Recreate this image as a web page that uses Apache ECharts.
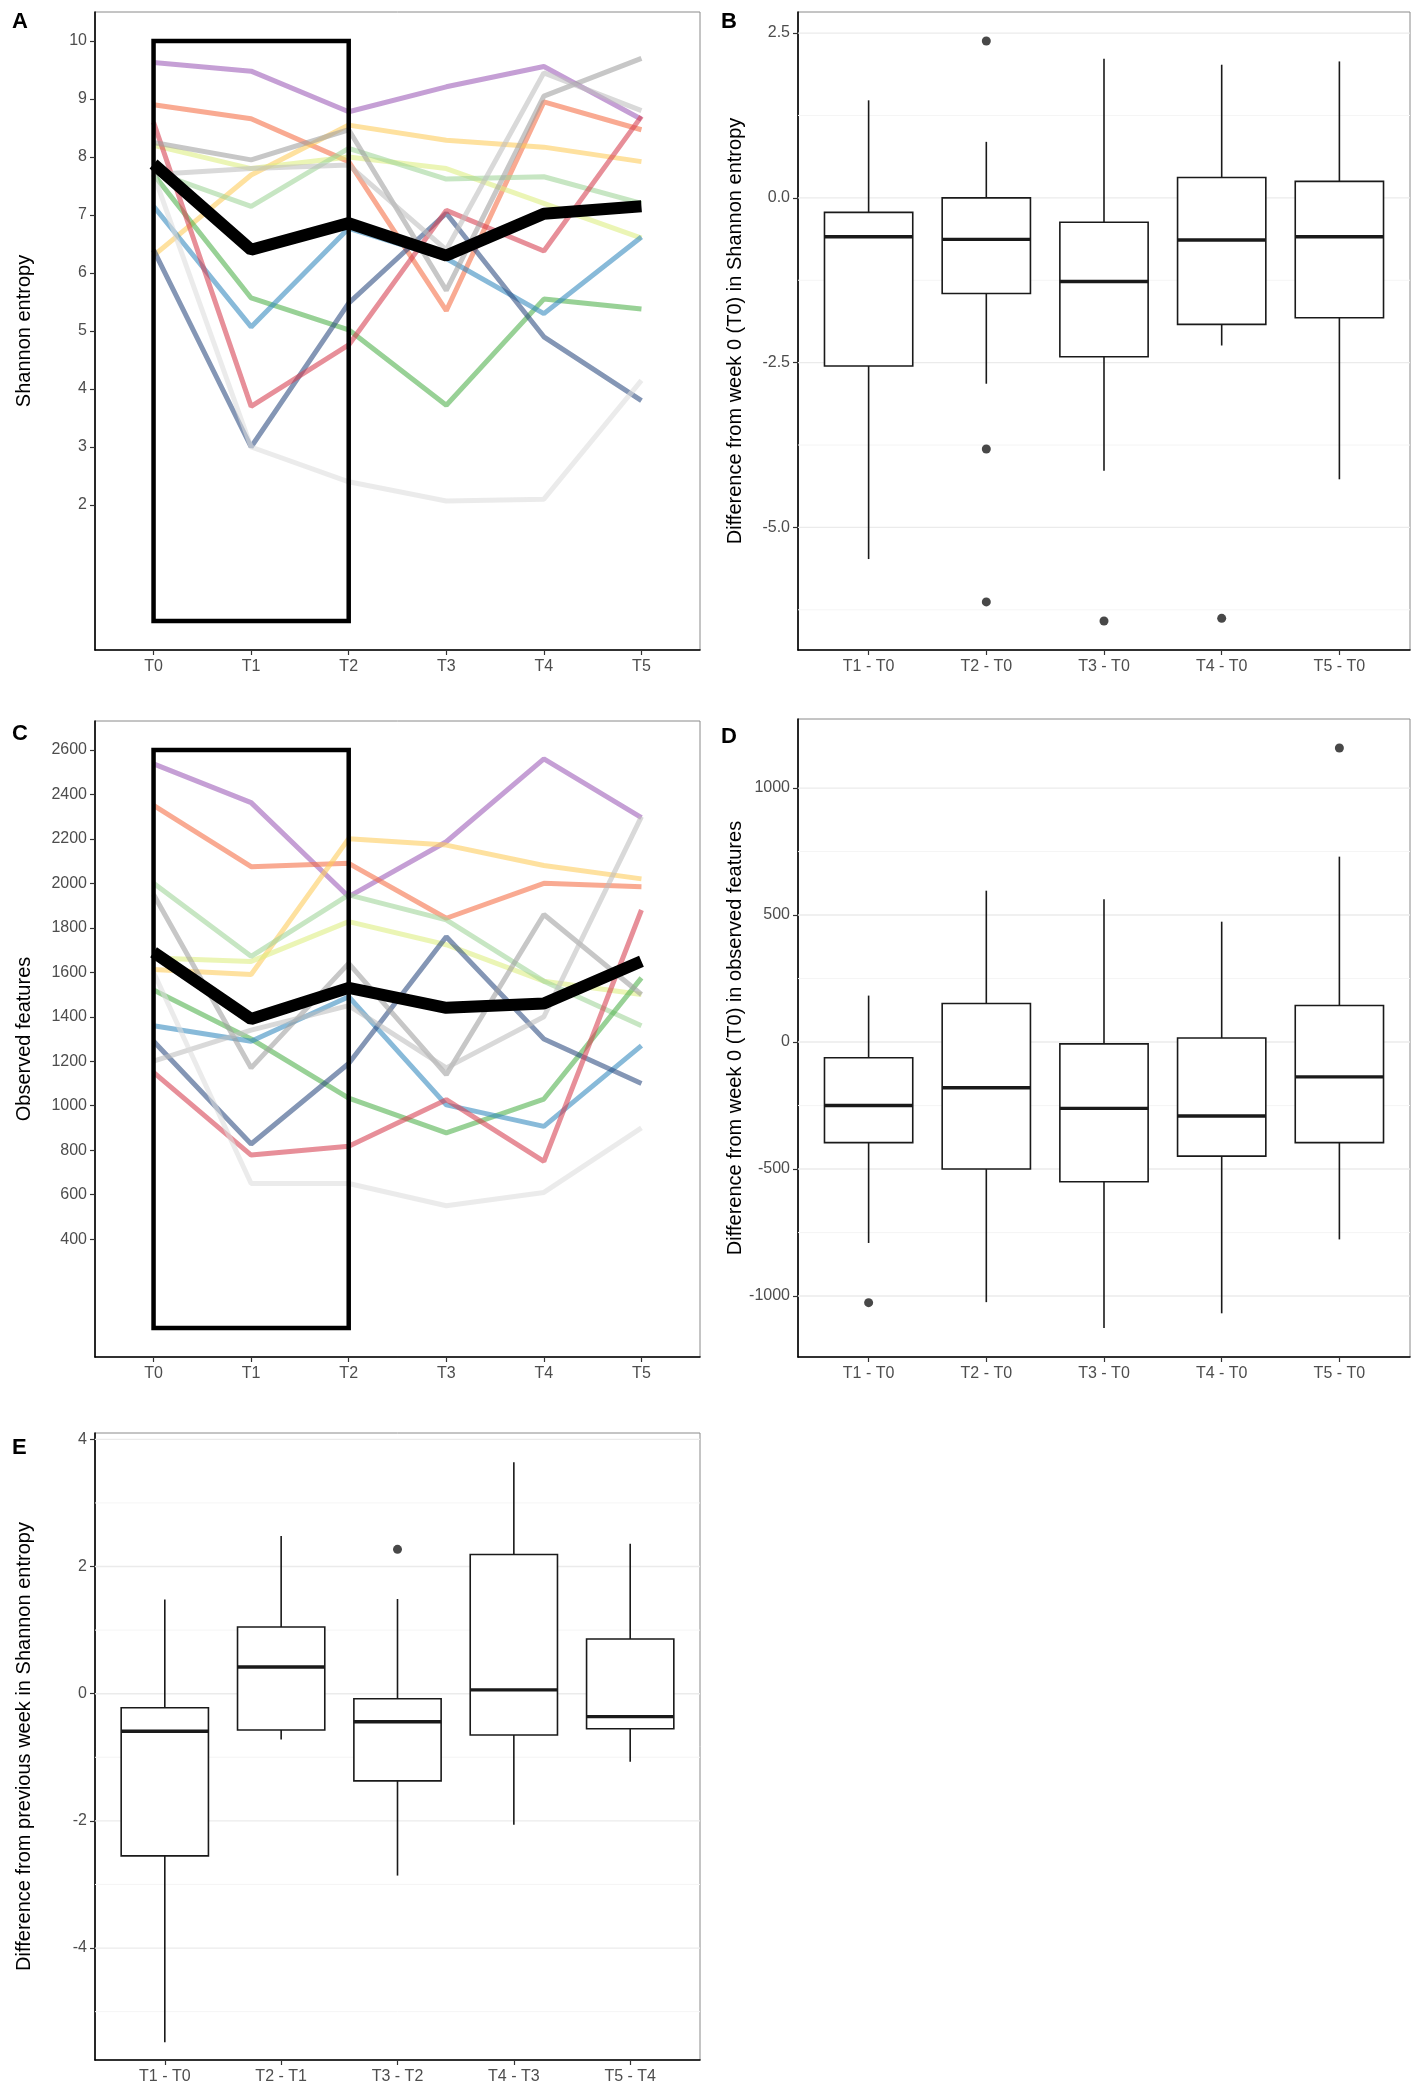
<!DOCTYPE html>
<html>
<head>
<meta charset="utf-8">
<title>Shannon entropy and observed features</title>
<script src="https://cdn.jsdelivr.net/npm/echarts@6.0.0/dist/echarts.min.js"></script>
<style>
    html, body { margin: 0; padding: 0; background: #fff; }
    #main { width: 1417px; height: 2095px; }
</style>
</head>
<body>
<div id="main"></div>
<script>
// categories
var timePoints = ['T0', 'T1', 'T2', 'T3', 'T4', 'T5'];
var diffFromT0 = ['T1 - T0', 'T2 - T0', 'T3 - T0', 'T4 - T0', 'T5 - T0'];
var diffFromPrev = ['T1 - T0', 'T2 - T1', 'T3 - T2', 'T4 - T3', 'T5 - T4'];

// tick labels
var shannonTicks = [2, 3, 4, 5, 6, 7, 8, 9, 10];
var featureTicks = [400, 600, 800, 1000, 1200, 1400, 1600, 1800, 2000, 2200, 2400, 2600];
var diffShannonTicks = [2.5, 0, -2.5, -5];
var diffShannonMinor = [1.25, -1.25, -3.75, -6.25];
var diffFeatureTicks = [1000, 500, 0, -500, -1000];
var diffFeatureMinor = [750, 250, -250, -750];
var prevShannonTicks = [4, 2, 0, -2, -4];
var prevShannonMinor = [3, 1, -1, -3, -5];

// A: Shannon entropy per subject, T0..T5
var shannonPurple = [9.63, 9.48, 8.78, 9.21, 9.56, 8.65];
var shannonSalmon = [8.90, 8.66, 7.92, 5.35, 8.95, 8.47];
var shannonYellow = [6.30, 7.69, 8.55, 8.29, 8.17, 7.92];
var shannonPaleYellow = [8.20, 7.80, 8.00, 7.80, 7.20, 6.60];
var shannonPaleGreen = [7.75, 7.15, 8.15, 7.62, 7.66, 7.20];
var shannonGreen = [7.70, 5.57, 5.02, 3.72, 5.55, 5.38];
var shannonBlue = [7.15, 5.07, 6.77, 6.25, 5.30, 6.62];
var shannonNavy = [6.40, 3.00, 5.48, 7.03, 4.90, 3.80];
var shannonRed = [8.60, 3.70, 4.76, 7.08, 6.38, 8.70];
var shannonGrey = [8.25, 7.95, 8.47, 5.70, 9.05, 9.70];
var shannonSilver = [7.70, 7.80, 7.86, 6.40, 9.45, 8.80];
var shannonFaint = [7.70, 3.00, 2.40, 2.07, 2.10, 4.15];
var shannonMean = [7.88, 6.40, 6.86, 6.30, 7.02, 7.15];

// C: observed features per subject, T0..T5
var featPurple = [2537, 2363, 1940, 2187, 2560, 2295];
var featSalmon = [2351, 2075, 2090, 1843, 2000, 1985];
var featYellow = [1612, 1590, 2201, 2172, 2080, 2020];
var featPaleYellow = [1664, 1649, 1828, 1724, 1560, 1500];
var featPaleGreen = [2000, 1672, 1948, 1836, 1560, 1360];
var featGreen = [1520, 1300, 1034, 878, 1030, 1575];
var featBlue = [1360, 1290, 1490, 1004, 907, 1270];
var featNavy = [1290, 828, 1190, 1760, 1300, 1100];
var featRed = [1150, 778, 818, 1027, 750, 1880];
var featGrey = [1950, 1170, 1640, 1140, 1860, 1500];
var featSilver = [1200, 1340, 1450, 1170, 1400, 2300];
var featFaint = [1600, 650, 650, 550, 610, 900];
var featMean = [1690, 1390, 1530, 1440, 1460, 1650];

// highlighted window T0..T2: [x from, y from, x to, y to]
var shannonWindow = [0, 0, 2, 10];
var featureWindow = [0, 0, 2, 2600];

// boxes: [lower whisker, Q1, median, Q3, upper whisker]
var boxShannonT0 = [
    [-5.48, -2.55, -0.59, -0.22, 1.48],
    [-2.82, -1.45, -0.63, 0.00, 0.85],
    [-4.14, -2.41, -1.27, -0.37, 2.11],
    [-2.24, -1.92, -0.64, 0.31, 2.02],
    [-4.27, -1.82, -0.59, 0.25, 2.07]
];
var outShannonT0 = [[1, 2.38], [1, -3.81], [1, -6.13], [2, -6.42], [3, -6.38]];

var boxFeatureT0 = [
    [-791, -396, -250, -62, 183],
    [-1024, -500, -180, 152, 596],
    [-1126, -550, -261, -7, 562],
    [-1068, -449, -291, 16, 474],
    [-777, -396, -137, 144, 730]
];
var outFeatureT0 = [[0, -1026], [4, 1158]];

var boxShannonPrev = [
    [-5.48, -2.55, -0.59, -0.22, 1.48],
    [-0.72, -0.57, 0.42, 1.05, 2.48],
    [-2.86, -1.37, -0.44, -0.08, 1.49],
    [-2.06, -0.65, 0.06, 2.19, 3.64],
    [-1.07, -0.55, -0.36, 0.86, 2.36]
];
var outShannonPrev = [[2, 2.27]];

var shannonSubjects = [shannonPurple, shannonSalmon, shannonYellow, shannonPaleYellow, shannonPaleGreen, shannonGreen,
    shannonBlue, shannonNavy, shannonRed, shannonGrey, shannonSilver, shannonFaint];
var featSubjects = [featPurple, featSalmon, featYellow, featPaleYellow, featPaleGreen, featGreen,
    featBlue, featNavy, featRed, featGrey, featSilver, featFaint];
var subjectColors = ['#9B59B6', '#F46D43', '#FDCB5A', '#DDEE80', '#9ED498', '#4DAF4A',
    '#3288BD', '#2B4A80', '#D53E4F', '#9E9E9E', '#BDBDBD', '#DDDDDD'];

var chart = echarts.init(document.getElementById('main'));
var FONT = 'Liberation Sans, Arial, sans-serif';

function xAxisOf(grid, count, labels) {
    var ticks = [];
    for (var i = 0; i < count; i++) ticks.push(i);
    return {
        type: 'value', gridIndex: grid, min: -0.6, max: count - 0.4,
        axisLine: { show: true, onZero: false, lineStyle: { color: '#000', width: 1.6 } },
        axisTick: { show: true, customValues: ticks, length: 5, lineStyle: { color: '#333', width: 1.2 } },
        axisLabel: {
            customValues: ticks, margin: 9, color: '#4d4d4d', fontSize: 16, fontFamily: FONT,
            formatter: function (v) { return labels[Math.round(v)]; }
        },
        splitLine: { show: false }
    };
}

function yAxisOf(grid, min, max, ticks, fmt, name, gap) {
    return {
        type: 'value', gridIndex: grid, min: min, max: max,
        axisLine: { show: true, onZero: false, lineStyle: { color: '#000', width: 1.6 } },
        axisTick: { show: true, customValues: ticks, length: 5, lineStyle: { color: '#333', width: 1.2 } },
        axisLabel: { customValues: ticks, margin: 8, color: '#4d4d4d', fontSize: 16, fontFamily: FONT, formatter: fmt },
        splitLine: { show: false },
        name: name, nameLocation: 'middle', nameGap: gap, nameRotate: 90,
        nameTextStyle: { color: '#000', fontSize: 20, fontFamily: FONT }
    };
}

function renderWindow(params, api) {
    var p0 = api.coord([api.value(0), api.value(1)]);
    var p1 = api.coord([api.value(2), api.value(3)]);
    return {
        type: 'rect',
        shape: { x: p0[0], y: p1[1], width: p1[0] - p0[0], height: p0[1] - p1[1] },
        style: { stroke: '#000', lineWidth: 4.5, fill: 'none' }
    };
}

function renderBox(params, api) {
    var x = api.value(0);
    var lo = api.coord([x, api.value(1)]);
    var q1 = api.coord([x, api.value(2)]);
    var md = api.coord([x, api.value(3)]);
    var q3 = api.coord([x, api.value(4)]);
    var hi = api.coord([x, api.value(5)]);
    var half = api.size([0.75, 0])[0] / 2;
    var cx = md[0];
    var st = { stroke: '#1a1a1a', lineWidth: 1.6, fill: 'none' };
    return {
        type: 'group',
        children: [
            { type: 'line', shape: { x1: cx, y1: hi[1], x2: cx, y2: q3[1] }, style: st },
            { type: 'line', shape: { x1: cx, y1: q1[1], x2: cx, y2: lo[1] }, style: st },
            { type: 'rect', shape: { x: cx - half, y: q3[1], width: half * 2, height: q1[1] - q3[1] },
                style: { stroke: '#1a1a1a', lineWidth: 1.6, fill: '#fff' } },
            { type: 'line', shape: { x1: cx - half, y1: md[1], x2: cx + half, y2: md[1] },
                style: { stroke: '#1a1a1a', lineWidth: 3.4 } }
        ]
    };
}

function renderRule(params, api) {
    var y = api.coord([0, api.value(1)])[1];
    var cs = params.coordSys;
    var major = api.value(2) === 1;
    return {
        type: 'line',
        shape: { x1: cs.x, y1: y, x2: cs.x + cs.width, y2: y },
        style: { stroke: major ? '#EBEBEB' : '#F5F5F5', lineWidth: major ? 1.4 : 1 }
    };
}

var series = [];

function addLines(grid, subjects, mean, windowRect) {
    subjects.forEach(function (vals, k) {
        series.push({
            type: 'line', xAxisIndex: grid, yAxisIndex: grid, silent: true, symbol: 'none', z: 2,
            data: vals.map(function (v, i) { return [i, v]; }),
            lineStyle: { color: subjectColors[k], width: 5, opacity: 0.58 }
        });
    });
    series.push({
        type: 'line', xAxisIndex: grid, yAxisIndex: grid, silent: true, symbol: 'none', z: 3,
        data: mean.map(function (v, i) { return [i, v]; }),
        lineStyle: { color: '#000', width: 12 }
    });
    series.push({
        type: 'custom', xAxisIndex: grid, yAxisIndex: grid, silent: true, z: 4,
        renderItem: renderWindow, data: [windowRect]
    });
}

function addBoxes(grid, boxes, outliers, major, minor) {
    var rules = major.map(function (v) { return [0, v, 1]; })
        .concat(minor.map(function (v) { return [0, v, 0]; }));
    series.push({
        type: 'custom', xAxisIndex: grid, yAxisIndex: grid, silent: true, z: 1,
        renderItem: renderRule, data: rules
    });
    series.push({
        type: 'custom', xAxisIndex: grid, yAxisIndex: grid, silent: true, z: 2,
        renderItem: renderBox,
        data: boxes.map(function (b, i) { return [i].concat(b); })
    });
    series.push({
        type: 'scatter', xAxisIndex: grid, yAxisIndex: grid, silent: true, z: 3,
        symbolSize: 9, itemStyle: { color: '#1a1a1a' }, data: outliers
    });
}

addLines(0, shannonSubjects, shannonMean, shannonWindow);
addBoxes(1, boxShannonT0, outShannonT0, diffShannonTicks, diffShannonMinor);
addLines(2, featSubjects, featMean, featureWindow);
addBoxes(3, boxFeatureT0, outFeatureT0, diffFeatureTicks, diffFeatureMinor);
addBoxes(4, boxShannonPrev, outShannonPrev, prevShannonTicks, prevShannonMinor);

function letter(txt, x, y) {
    return { type: 'text', left: x, top: y, style: { text: txt, fill: '#000', font: 'bold 22px ' + FONT } };
}

var gridStyle = { show: true, borderColor: '#8a8a8a', borderWidth: 1, backgroundColor: '#fff' };

var option = {
    animation: false,
    backgroundColor: '#fff',
    grid: [
        Object.assign({ left: 95, top: 12, width: 605, height: 638 }, gridStyle),
        Object.assign({ left: 798, top: 12, width: 612, height: 638 }, gridStyle),
        Object.assign({ left: 95, top: 721, width: 605, height: 636 }, gridStyle),
        Object.assign({ left: 798, top: 719, width: 612, height: 638 }, gridStyle),
        Object.assign({ left: 95, top: 1433, width: 605, height: 627 }, gridStyle)
    ],
    xAxis: [
        xAxisOf(0, 6, timePoints),
        xAxisOf(1, 5, diffFromT0),
        xAxisOf(2, 6, timePoints),
        xAxisOf(3, 5, diffFromT0),
        xAxisOf(4, 5, diffFromPrev)
    ],
    yAxis: [
        yAxisOf(0, -0.5, 10.5, shannonTicks, function (v) { return String(v); }, 'Shannon entropy', 61),
        yAxisOf(1, -6.86, 2.82, diffShannonTicks, function (v) { return v.toFixed(1); },
            'Difference from week 0 (T0) in Shannon entropy', 53),
        yAxisOf(2, -130, 2730, featureTicks, function (v) { return String(v); }, 'Observed features', 61),
        yAxisOf(3, -1240, 1272, diffFeatureTicks, function (v) { return String(v); },
            'Difference from week 0 (T0) in observed features', 51),
        yAxisOf(4, -5.76, 4.1, prevShannonTicks, function (v) { return String(v); },
            'Difference from previous week in Shannon entropy', 61)
    ],
    graphic: [
        letter('A', 12, 11),
        letter('B', 721, 11),
        letter('C', 12, 723),
        letter('D', 721, 726),
        letter('E', 12, 1437)
    ],
    series: series
};

chart.setOption(option);
</script>
</body>
</html>
